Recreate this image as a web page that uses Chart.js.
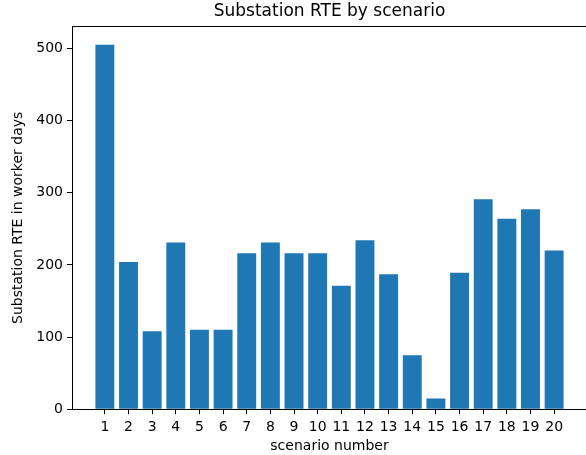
<!DOCTYPE html>
<html>
<head>
<meta charset="utf-8">
<script src="https://cdn.jsdelivr.net/npm/chart.js@4"></script>
<style>
  html, body { margin: 0; padding: 0; background: #fff; overflow: hidden; }
  canvas { display: block; }
</style>
</head>
<body>
<canvas id="rteChart" width="600" height="455"></canvas>
<script>
// Scenario numbers and RTE values (worker days)
const scenarios = [1, 2, 3, 4, 5, 6, 7, 8, 9, 10, 11, 12, 13, 14, 15, 16, 17, 18, 19, 20];
const rteValues = [505, 204, 108, 231, 110, 110, 216, 231, 216, 216, 171, 234, 187, 75, 15, 189, 291, 264, 277, 220];
const xTickLabels = ["1", "2", "3", "4", "5", "6", "7", "8", "9", "10", "11", "12", "13", "14", "15", "16", "17", "18", "19", "20"];
const yTicks = [0, 100, 200, 300, 400, 500];

const FONT = "'DejaVu Sans', sans-serif";

// Draw the axes frame like matplotlib (all four spines)
const framePlugin = {
  id: "frame",
  afterDatasetsDraw(chart) {
    const { ctx, chartArea: a } = chart;
    ctx.save();
    ctx.strokeStyle = "#000";
    ctx.lineWidth = 1;
    ctx.strokeRect(Math.round(a.left) + 0.5, Math.round(a.top) + 0.5,
      Math.round(a.right - a.left), Math.round(a.bottom - a.top));
    ctx.restore();
  },
};

const ctx = document.getElementById("rteChart").getContext("2d");
new Chart(ctx, {
  type: "bar",
  data: {
    datasets: [
      {
        label: "Substation RTE",
        data: scenarios.map((s, i) => ({ x: s, y: rteValues[i] })),
        backgroundColor: "#1f77b4",
        barPercentage: 0.8,
        categoryPercentage: 1,
      },
    ],
  },
  options: {
    responsive: false,
    animation: false,
    devicePixelRatio: 1,
    layout: { padding: { left: 0, right: 13, top: 0, bottom: 0 } },
    plugins: {
      legend: { display: false },
      tooltip: { enabled: false },
      title: {
        display: true,
        fullSize: false,
        text: "Substation RTE by scenario",
        color: "#000",
        font: { family: FONT, size: 17, weight: "normal" },
        padding: { top: 1, bottom: 5 },
      },
    },
    scales: {
      x: {
        type: "linear",
        min: -0.39,
        max: 21.39,
        offset: false,
        afterBuildTicks: (scale) => {
          scale.ticks = scenarios.map((v) => ({ value: v }));
        },
        afterFit: (scale) => { scale.height = 45.7; },
        ticks: {
          autoSkip: false,
          maxRotation: 0,
          color: "#000",
          padding: 5,
          font: { family: FONT, size: 14 },
          callback: (v) => xTickLabels[scenarios.indexOf(v)] || "",
        },
        grid: { offset: false, drawOnChartArea: false, drawTicks: true, tickLength: 5, color: "#000" },
        border: { display: true, color: "#000" },
        title: {
          display: true,
          text: "scenario number",
          color: "#000",
          font: { family: FONT, size: 14 },
          padding: { top: 0, bottom: 0 },
        },
      },
      y: {
        min: 0,
        max: 530.25,
        afterBuildTicks: (scale) => {
          scale.ticks = yTicks.map((v) => ({ value: v }));
        },
        afterFit: (scale) => { scale.width = 72; },
        ticks: {
          color: "#000",
          padding: 4,
          font: { family: FONT, size: 14 },
        },
        grid: { drawOnChartArea: false, drawTicks: true, tickLength: 5, color: "#000" },
        border: { display: true, color: "#000" },
        title: {
          display: true,
          text: "Substation RTE in worker days",
          color: "#000",
          font: { family: FONT, size: 14 },
          padding: { top: 10, bottom: 0 },
        },
      },
    },
  },
  plugins: [framePlugin],
});
</script>
</body>
</html>
